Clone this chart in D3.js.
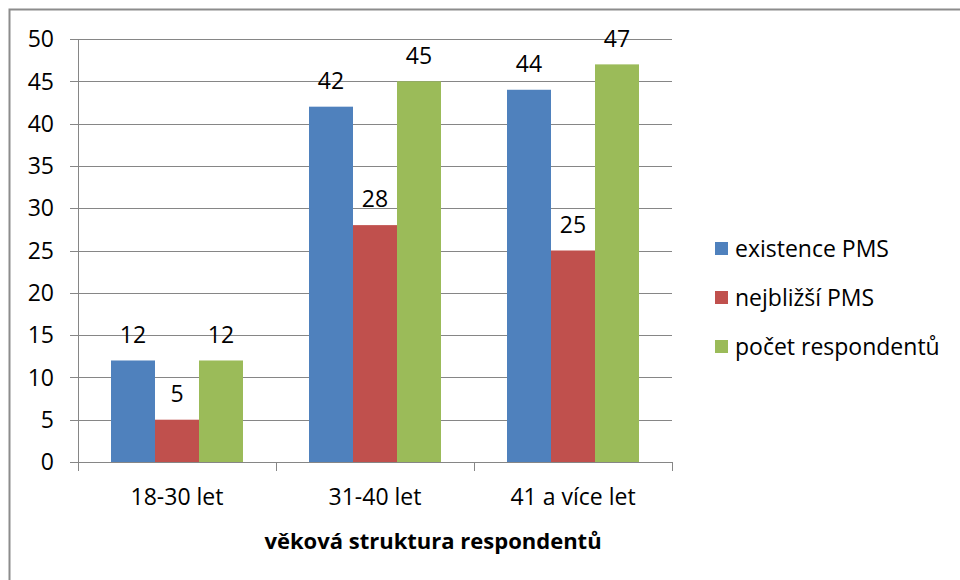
<!DOCTYPE html>
<html>
<head>
<meta charset="utf-8">
<script src="https://cdn.jsdelivr.net/npm/d3@7"></script>
<style>
  body { margin: 0; background: #fff; }
  text { font-family: "Open Sans", sans-serif; fill: #000; }
</style>
</head>
<body>
<script>
// chart data
var categories = ["18-30 let", "31-40 let", "41 a více let"];
var seriesNames = ["existence PMS", "nejbližší PMS", "počet respondentů"];
var existence = [12, 42, 44];
var nejblizsi = [5, 28, 25];
var pocet = [12, 45, 47];
var yTicks = [0, 5, 10, 15, 20, 25, 30, 35, 40, 45, 50];
var colors = ["#4F81BD", "#C0504D", "#9BBB59"];

var series = [existence, nejblizsi, pocet];

var width = 960, height = 580;
var svg = d3.select("body").append("svg")
    .attr("width", width)
    .attr("height", height);

// outer chart frame (runs off the picture to the right and bottom)
svg.append("rect")
    .attr("x", 9.5).attr("y", 9.5)
    .attr("width", 1000).attr("height", 1000)
    .attr("fill", "none")
    .attr("stroke", "#8c8c8c")
    .attr("stroke-width", 2);

var plotL = 78, plotR = 672, plotT = 39, plotB = 462;
var fs = "23px";

var y = d3.scaleLinear().domain([0, 50]).range([plotB, plotT]);
var x0 = d3.scaleBand().domain(categories).range([plotL, plotR]);
var x1 = d3.scaleBand().domain(d3.range(series.length))
    .range([0, x0.bandwidth()])
    .paddingOuter(0.75).paddingInner(0);

// gridlines + left ticks
svg.append("g").selectAll("line")
    .data(yTicks.filter(function(d){ return d > 0; }))
    .enter().append("line")
    .attr("x1", plotL - 8).attr("x2", plotR)
    .attr("y1", function(d){ return Math.round(y(d)) + 0.5; })
    .attr("y2", function(d){ return Math.round(y(d)) + 0.5; })
    .attr("stroke", "#868686");

// y labels
svg.append("g").selectAll("text")
    .data(yTicks)
    .enter().append("text")
    .attr("x", 54)
    .attr("y", function(d){ return y(d); })
    .attr("dy", "0.36em")
    .attr("text-anchor", "end")
    .style("font-size", fs)
    .text(function(d){ return d; });

// bars
var groups = svg.append("g").selectAll("g")
    .data(categories)
    .enter().append("g")
    .attr("transform", function(d){ return "translate(" + x0(d) + ",0)"; });

groups.selectAll("rect")
    .data(function(d, i){ return series.map(function(s, j){ return {v: s[i], j: j}; }); })
    .enter().append("rect")
    .attr("x", function(d){ return x1(d.j); })
    .attr("width", x1.bandwidth())
    .attr("y", function(d){ return y(d.v); })
    .attr("height", function(d){ return plotB - y(d.v); })
    .attr("fill", function(d){ return colors[d.j]; });

// data labels
groups.selectAll("text")
    .data(function(d, i){ return series.map(function(s, j){ return {v: s[i], j: j}; }); })
    .enter().append("text")
    .attr("x", function(d){ return x1(d.j) + x1.bandwidth() / 2; })
    .attr("y", function(d){ return y(d.v) - 26; })
    .attr("dy", "0.36em")
    .attr("text-anchor", "middle")
    .style("font-size", fs)
    .text(function(d){ return d.v; });

// y axis line
svg.append("line")
    .attr("x1", plotL + 0.5).attr("x2", plotL + 0.5)
    .attr("y1", plotT).attr("y2", plotB)
    .attr("stroke", "#868686");

// x axis line + ticks
svg.append("line")
    .attr("x1", plotL - 8).attr("x2", plotR)
    .attr("y1", plotB + 0.5).attr("y2", plotB + 0.5)
    .attr("stroke", "#868686");

var edges = categories.map(function(c){ return x0(c); }).concat([plotR]);
svg.append("g").selectAll("line")
    .data(edges)
    .enter().append("line")
    .attr("x1", function(d){ return Math.round(d) + 0.5; })
    .attr("x2", function(d){ return Math.round(d) + 0.5; })
    .attr("y1", plotB).attr("y2", plotB + 9)
    .attr("stroke", "#868686");

// category labels
svg.append("g").selectAll("text")
    .data(categories)
    .enter().append("text")
    .attr("x", function(d){ return x0(d) + x0.bandwidth() / 2; })
    .attr("y", 497)
    .attr("dy", "0.36em")
    .attr("text-anchor", "middle")
    .style("font-size", fs)
    .text(function(d){ return d; });

// axis title
svg.append("text")
    .attr("x", 433).attr("y", 541)
    .attr("dy", "0.36em")
    .attr("text-anchor", "middle")
    .style("font-size", "22px")
    .style("font-weight", "bold")
    .text("věková struktura respondentů");

// legend
var legend = svg.append("g").selectAll("g")
    .data(seriesNames)
    .enter().append("g")
    .attr("transform", function(d, i){ return "translate(715," + (249 + i * 49) + ")"; });

legend.append("rect")
    .attr("x", 0).attr("y", -7)
    .attr("width", 13).attr("height", 13)
    .attr("fill", function(d, i){ return colors[i]; });

legend.append("text")
    .attr("x", 20).attr("y", 0)
    .attr("dy", "0.36em")
    .style("font-size", fs)
    .text(function(d){ return d; });
</script>
</body>
</html>
